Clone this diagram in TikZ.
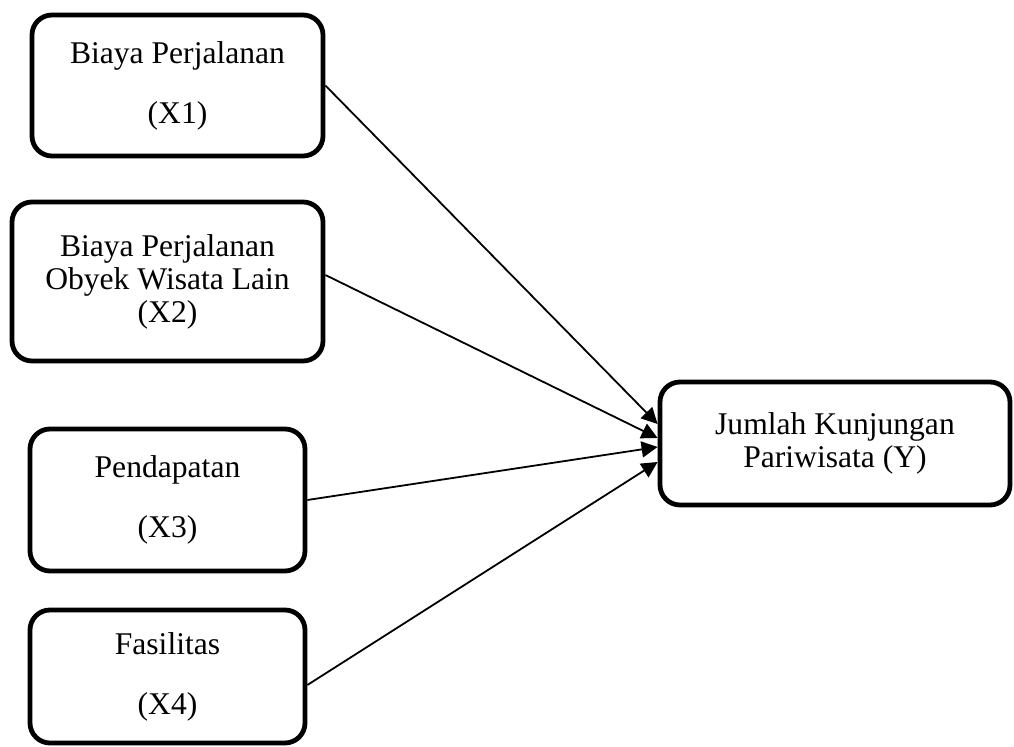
\documentclass[tikz,border=0pt]{standalone}
\usepackage{fontspec}
\setmainfont{Liberation Serif}
\usetikzlibrary{arrows.meta}

\begin{document}
\begin{tikzpicture}[
        x=0.5pt, y=-0.5pt,
        box/.style={draw, line width=2.4pt, rounded corners=10pt, align=center, inner sep=0pt},
        arrow/.style={-{Triangle[length=8pt,width=8pt]}, line width=0.9pt},
        every node/.style={font=\fontsize{15.8}{16.5}\selectfont}
        ]
        \useasboundingbox (0,0) rectangle (1014,747);
        % variabel bebas
        \node[box, minimum width=145.5pt, minimum height=70.5pt] (X1) at (177.5,85.5) {Biaya Perjalanan\\[13.5pt](X1)};
        \node[box, minimum width=155.5pt, minimum height=79.5pt] (X2) at (167.5,281.5) {Biaya Perjalanan\\Obyek Wisata Lain\\(X2)};
        \node[box, minimum width=137.5pt, minimum height=71pt] (X3) at (167.5,500) {Pendapatan\\[13.5pt](X3)};
        \node[box, minimum width=137.5pt, minimum height=66.5pt] (X4) at (167.5,676.5) {Fasilitas\\[13.5pt](X4)};
        % variabel terikat
        \node[box, minimum width=175pt, minimum height=61.5pt] (Y) at (835,443.5) {Jumlah Kunjungan\\Pariwisata (Y)};
        \foreach \src/\sy/\ty in {X1/0/9.75, X2/3.25/2.75, X3/0/-1.75, X4/-4.25/-9.25} {
            \draw[arrow] ([yshift=\sy pt]\src.east) -- ([yshift=\ty pt]Y.west);
        }
\end{tikzpicture}
\end{document}
